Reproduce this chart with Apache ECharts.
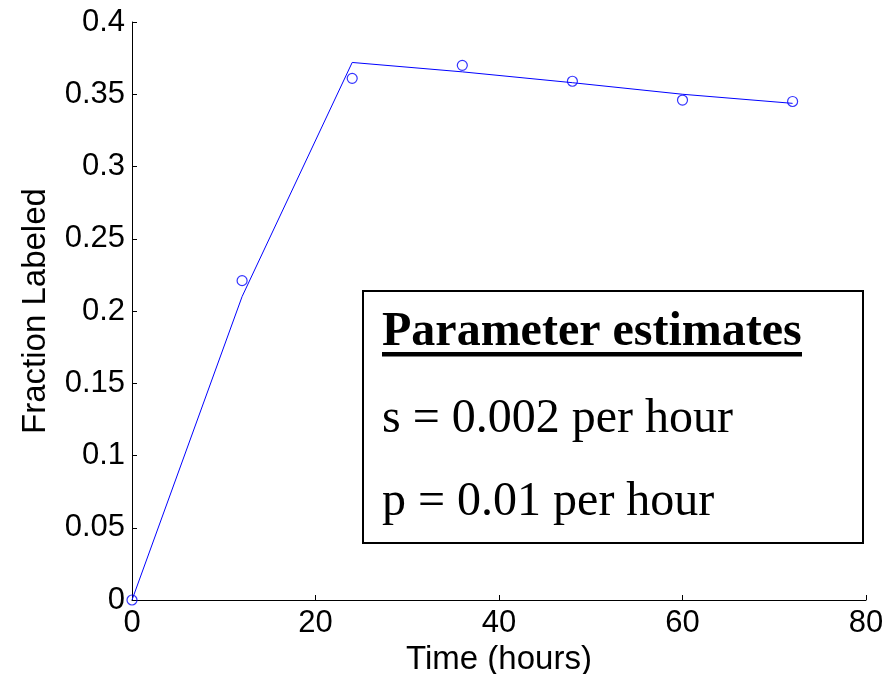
<!DOCTYPE html>
<html>
<head>
<meta charset="utf-8">
<script src="https://cdn.jsdelivr.net/npm/echarts@6/dist/echarts.min.js"></script>
<style>html,body{margin:0;padding:0;background:#fff;}#c{width:890px;height:674px;}</style>
</head>
<body>
<div id="c"></div>
<script>
const times = [0, 12, 24, 36, 48, 60, 72];
const observed = [0.000, 0.221, 0.361, 0.370, 0.359, 0.346, 0.345];
const modelTimes = [0, 12, 24, 36, 48, 60, 72];
const modelFit = [0.000, 0.210, 0.372, 0.3655, 0.358, 0.350, 0.3437];
const xTicks = [0, 20, 40, 60, 80];
const yTicks = [0, 0.05, 0.1, 0.15, 0.2, 0.25, 0.3, 0.35, 0.4];
const boxTitle = 'Parameter estimates';
const boxLines = ['s = 0.002 per hour', 'p = 0.01 per hour'];

const chart = echarts.init(document.getElementById('c'), null, {renderer: 'canvas'});
const axisFont = {color: '#000', fontFamily: 'Liberation Sans, Arial, sans-serif', fontSize: 31};
chart.setOption({
  animation: false,
  backgroundColor: '#fff',
  grid: {left: 132, width: 734, top: 22, height: 578, containLabel: false, outerBoundsMode: 'none'},
  xAxis: {
    type: 'value', min: xTicks[0], max: xTicks[xTicks.length - 1], interval: 20,
    name: 'Time (hours)', nameLocation: 'middle', nameGap: 28,
    nameTextStyle: {color: '#000', fontFamily: 'Liberation Sans, Arial, sans-serif', fontSize: 33},
    axisLine: {show: true, onZero: false, lineStyle: {color: '#000', width: 1}},
    axisTick: {show: true, inside: true, length: 5, lineStyle: {color: '#000'}},
    axisLabel: Object.assign({margin: 8}, axisFont),
    splitLine: {show: false}
  },
  yAxis: {
    type: 'value', min: yTicks[0], max: yTicks[yTicks.length - 1], interval: 0.05,
    name: 'Fraction Labeled', nameLocation: 'middle', nameGap: 80,
    nameTextStyle: {color: '#000', fontFamily: 'Liberation Sans, Arial, sans-serif', fontSize: 33},
    axisLine: {show: true, onZero: false, lineStyle: {color: '#000', width: 1}},
    axisTick: {show: true, inside: true, length: 5, lineStyle: {color: '#000'}},
    axisLabel: Object.assign({margin: 7}, axisFont),
    splitLine: {show: false}
  },
  series: [
    {
      type: 'line', data: modelTimes.map((t, i) => [t, modelFit[i]]),
      showSymbol: false, symbol: 'none',
      lineStyle: {color: '#0000ff', width: 1}, z: 2
    },
    {
      type: 'scatter', data: times.map((t, i) => [t, observed[i]]),
      symbol: 'circle', symbolSize: 10,
      itemStyle: {color: 'rgba(0,0,0,0)', borderColor: '#0000ff', borderWidth: 1.2}, z: 3
    }
  ],
  graphic: [
    {type: 'rect', shape: {x: 363, y: 291, width: 500, height: 252},
     style: {fill: '#fff', stroke: '#000', lineWidth: 2}, z: 10},
    {type: 'text', x: 382, y: 333, z: 11,
     style: {text: boxTitle, fill: '#000', font: 'bold 48px "Liberation Serif", "Times New Roman", serif', verticalAlign: 'middle', align: 'left'}},
    {type: 'rect', shape: {x: 382, y: 352, width: 420, height: 4.5}, style: {fill: '#000'}, z: 11},
    {type: 'text', x: 382, y: 419, z: 11,
     style: {text: boxLines[0], fill: '#000', font: '48px "Liberation Serif", "Times New Roman", serif', verticalAlign: 'middle', align: 'left'}},
    {type: 'text', x: 382, y: 502, z: 11,
     style: {text: boxLines[1], fill: '#000', font: '48px "Liberation Serif", "Times New Roman", serif', verticalAlign: 'middle', align: 'left'}}
  ]
});
</script>
</body>
</html>
